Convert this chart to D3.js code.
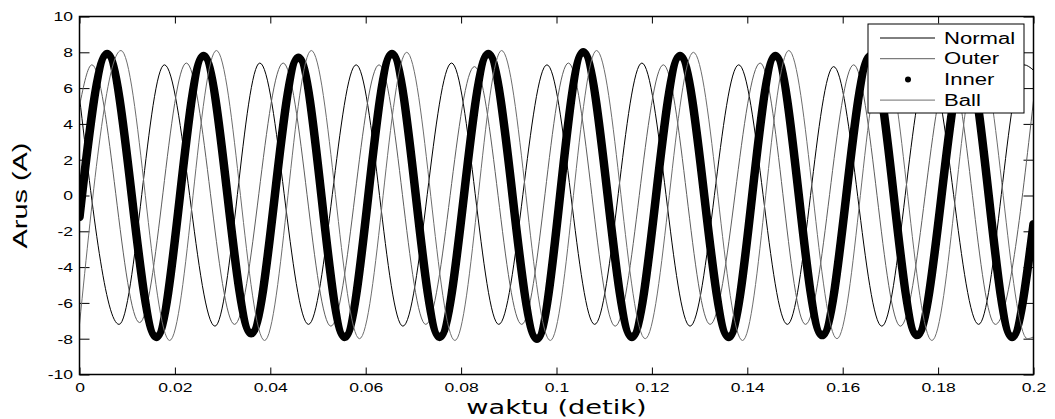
<!DOCTYPE html>
<html>
<head>
<meta charset="utf-8">
<script src="https://cdn.jsdelivr.net/npm/d3@7"></script>
<style>
  body { margin: 0; background: #fff; }
  svg { display: block; }
</style>
</head>
<body>
<div id="chart"></div>
<script>
// [time (s), current (A)] at start, every peak / trough, and end
const normal = [
    [0, 5.5],
    [0.0083, -7.2], [0.0178, 7.3], [0.0284, -7.3], [0.0378, 7.4],
    [0.0480, -7.2], [0.0580, 7.3], [0.0678, -7.3], [0.0780, 7.4],
    [0.0879, -7.2], [0.0980, 7.3], [0.1080, -7.2], [0.1179, 7.4],
    [0.1280, -7.3], [0.1382, 7.3], [0.1484, -7.2], [0.1581, 7.2],
    [0.1682, -7.3], [0.1780, 7.3], [0.1885, -7.2], [0.1980, 7.3],
    [0.2, 7.0]
];
const outer = [
    [0, 5.0],
    [0.0026, 7.3], [0.0126, -7.1], [0.0224, 7.4], [0.0325, -7.2],
    [0.0427, 7.4], [0.0527, -7.3], [0.0628, 7.3], [0.0726, -7.2],
    [0.0828, 7.2], [0.0927, -7.2], [0.1025, 7.4], [0.1123, -7.3],
    [0.1224, 7.3], [0.1322, -7.2], [0.1427, 7.4], [0.1522, -7.2],
    [0.1623, 7.3], [0.1721, -7.3], [0.1824, 7.2], [0.1920, -7.2],
    [0.2, 5.3]
];
const inner = [
    [0, -1.2],
    [0.0058, 7.9], [0.0161, -7.9], [0.0260, 7.8], [0.0360, -7.7],
    [0.0459, 7.7], [0.0556, -7.9], [0.0655, 7.9], [0.0755, -7.9],
    [0.0857, 7.9], [0.0959, -8.0], [0.1056, 8.0], [0.1158, -7.9],
    [0.1259, 7.8], [0.1361, -7.9], [0.1459, 7.8], [0.1557, -7.8],
    [0.1658, 7.8], [0.1756, -7.8], [0.1858, 7.7], [0.1955, -7.9],
    [0.2, -1.6]
];
const ball = [
    [0, -7.2],
    [0.0087, 8.1], [0.0189, -8.1], [0.0287, 8.1], [0.0388, -8.1],
    [0.0486, 8.1], [0.0587, -8.0], [0.0686, 8.0], [0.0787, -8.1],
    [0.0885, 8.1], [0.0987, -8.1], [0.1084, 8.1], [0.1186, -8.0],
    [0.1287, 8.0], [0.1390, -8.1], [0.1487, 8.1], [0.1588, -8.0],
    [0.1686, 8.0], [0.1787, -8.1], [0.1886, 8.0], [0.1987, -8.0],
    [0.2, -7.9]
];

const seriesNames = ["Normal", "Outer", "Inner", "Ball"];
const xTicks = [0, 0.02, 0.04, 0.06, 0.08, 0.1, 0.12, 0.14, 0.16, 0.18, 0.2];
const xTickLabels = ["0", "0.02", "0.04", "0.06", "0.08", "0.1", "0.12", "0.14", "0.16", "0.18", "0.2"];
const yTicks = [-10, -8, -6, -4, -2, 0, 2, 4, 6, 8, 10];
const yTickLabels = ["-10", "-8", "-6", "-4", "-2", "0", "2", "4", "6", "8", "10"];

// the original picture is stretched sideways, so text is widened to match
const stretch = 1.3;

const W = 1055, H = 419;
const margin = {top: 16.5, right: 21.5, bottom: 44.5, left: 79.5},
      width = W - margin.left - margin.right,
      height = H - margin.top - margin.bottom;

const svg = d3.select("#chart").append("svg")
    .attr("width", W)
    .attr("height", H);

const g = svg.append("g")
    .attr("transform", `translate(${margin.left},${margin.top})`);

const x = d3.scaleLinear().domain([0, 0.2]).range([0, width]);
const y = d3.scaleLinear().domain([-10, 10]).range([height, 0]);

const tickFont = "'Liberation Sans', Arial, sans-serif";

// bottom axis with labels
const xAxis = g.append("g")
    .attr("transform", `translate(0,${height})`)
    .call(d3.axisBottom(x).tickValues(xTicks)
        .tickFormat((d, i) => xTickLabels[i])
        .tickSizeInner(-7).tickSizeOuter(0).tickPadding(7.5));
xAxis.selectAll("text")
    .attr("font-family", tickFont).attr("font-size", 13.5).attr("fill", "#000")
    .attr("transform", `scale(${stretch},1)`);

// top axis, ticks only
g.append("g")
    .call(d3.axisTop(x).tickValues(xTicks).tickFormat("")
        .tickSizeInner(-7).tickSizeOuter(0));

// left axis with labels
const yAxis = g.append("g")
    .call(d3.axisLeft(y).tickValues(yTicks)
        .tickFormat((d, i) => yTickLabels[i])
        .tickSizeInner(-10).tickSizeOuter(0));
yAxis.selectAll("text")
    .attr("font-family", tickFont).attr("font-size", 13.5).attr("fill", "#000")
    .attr("x", 0)
    .attr("transform", `translate(-6.5,0) scale(${stretch},1)`);

// right axis, ticks only
g.append("g")
    .attr("transform", `translate(${width},0)`)
    .call(d3.axisRight(y).tickValues(yTicks).tickFormat("")
        .tickSizeInner(-10).tickSizeOuter(0));

g.selectAll(".domain").remove();
g.selectAll(".tick line").attr("stroke", "#000").attr("stroke-width", 1);

// clip the traces to the plot box
svg.append("defs").append("clipPath").attr("id", "plotClip")
    .append("rect").attr("width", width).attr("height", height);

const line = d3.line()
    .x(d => x(d[0]))
    .y(d => y(d[1]))
    .curve(d3.curveMonotoneX);

const traces = g.append("g").attr("clip-path", "url(#plotClip)");

traces.append("path").datum(normal)
    .attr("fill", "none").attr("stroke", "#000").attr("stroke-width", 1)
    .attr("d", line);

traces.append("path").datum(outer)
    .attr("fill", "none").attr("stroke", "#5e5e5e").attr("stroke-width", 1)
    .attr("d", line);

traces.append("path").datum(inner)
    .attr("fill", "none").attr("stroke", "#000").attr("stroke-width", 8.5)
    .attr("stroke-linejoin", "round").attr("stroke-linecap", "round")
    .attr("d", line);

traces.append("path").datum(ball)
    .attr("fill", "none").attr("stroke", "#6e6e6e").attr("stroke-width", 1)
    .attr("d", line);

// plot frame
g.append("rect")
    .attr("width", width).attr("height", height)
    .attr("fill", "none").attr("stroke", "#000").attr("stroke-width", 1.5);

// axis titles
svg.append("text")
    .attr("transform", `translate(${margin.left + width / 2},414) scale(1.36,1)`)
    .attr("text-anchor", "middle")
    .attr("font-family", "'DejaVu Sans', Verdana, sans-serif")
    .attr("font-size", 20)
    .text("waktu (detik)");

svg.append("text")
    .attr("transform", `translate(27,${margin.top + height / 2}) rotate(-90)`)
    .attr("text-anchor", "middle")
    .attr("font-family", "'Liberation Sans', Arial, sans-serif")
    .attr("font-size", 21)
    .attr("textLength", 106)
    .attr("lengthAdjust", "spacingAndGlyphs")
    .text("Arus (A)");

// legend
const legend = svg.append("g").attr("transform", "translate(868,24)");
legend.append("rect")
    .attr("width", 156).attr("height", 89)
    .attr("fill", "#fff").attr("stroke", "#000").attr("stroke-width", 1);

const legendStroke = {Normal: "#000", Outer: "#5e5e5e", Ball: "#6e6e6e"};
seriesNames.forEach((name, i) => {
    const cy = 14 + i * 20.7;
    if (name === "Inner") {
        legend.append("circle")
            .attr("cx", 40).attr("cy", cy).attr("r", 3)
            .attr("fill", "#000");
    } else {
        legend.append("line")
            .attr("x1", 12).attr("x2", 67)
            .attr("y1", cy).attr("y2", cy)
            .attr("stroke", legendStroke[name]).attr("stroke-width", 1);
    }
    legend.append("text")
        .attr("transform", `translate(76,${cy + 5.7}) scale(1.38,1)`)
        .attr("font-family", "'Liberation Sans', Arial, sans-serif")
        .attr("font-size", 16)
        .text(name);
});
</script>
</body>
</html>
